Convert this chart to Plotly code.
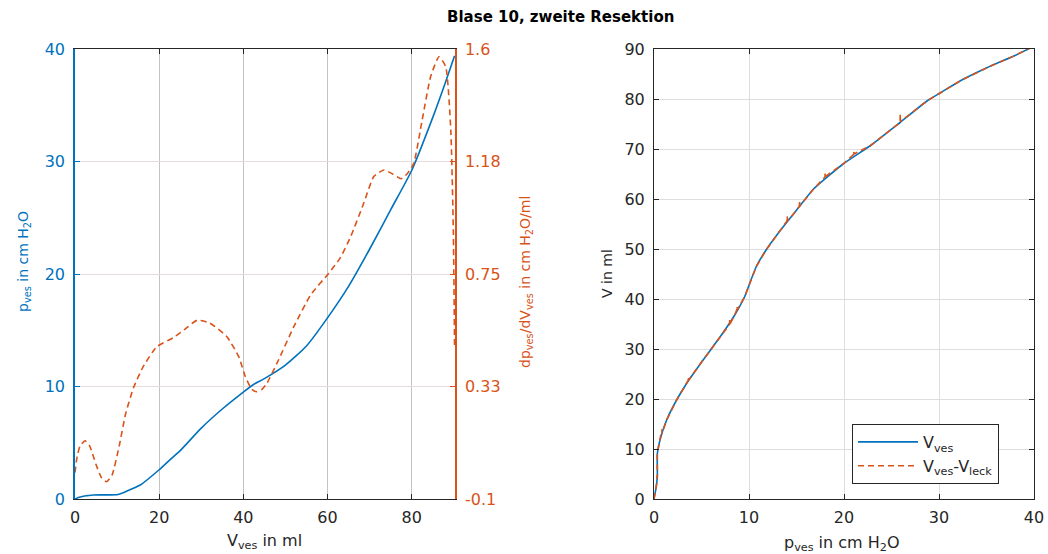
import plotly.graph_objects as go

# ---- left panel: pressure and compliance-derivative over filled volume ----
v_ves = [0, 1, 2, 3, 4.3, 6, 8, 10.2, 12, 15.5, 20, 22.6, 25, 30, 35, 40, 42.5, 45,
         50, 55, 60, 65, 70, 75, 80, 85, 88, 90.2]
p_ves = [0, 0.15, 0.25, 0.3, 0.36, 0.37, 0.37, 0.4, 0.65, 1.24, 2.6, 3.5, 4.3, 6.3,
         8.0, 9.5, 10.2, 10.7, 11.9, 13.6, 16.1, 18.9, 22.2, 25.7, 29.2, 33.9, 37.0, 39.4]

v_dpdv = [0, 0.5, 1.2, 2.4, 3.5, 5, 6.3, 7.5, 8.8, 10.5, 12, 13.9, 16.2, 19.4, 23.4,
          26, 29, 32, 36.1, 38.9, 40.5, 42, 43.2, 44.5, 45.6, 48, 52, 56, 60.3, 63,
          65.5, 68.6, 71, 73.4, 75.5, 77.5, 79, 80.5, 82.5, 84.5, 86.5, 88.1, 89.3,
          89.9, 90.2]
dpdv = [0.0, 0.06, 0.10, 0.12, 0.10, 0.03, -0.02, -0.035, -0.01, 0.10, 0.22, 0.32,
        0.40, 0.475, 0.51, 0.54, 0.575, 0.565, 0.513, 0.438, 0.362, 0.315, 0.305,
        0.315, 0.337, 0.413, 0.551, 0.671, 0.753, 0.81, 0.891, 1.017, 1.118, 1.143,
        1.128, 1.11, 1.13, 1.168, 1.332, 1.495, 1.571, 1.533, 1.294, 0.916, 0.47]

# ---- right panel: volume over pressure, raw and leak-corrected ----
p_curve = [0, 0.2, 0.35, 0.35, 0.63, 1.33, 2.38, 3.43, 5.17, 7.1, 8.5, 9.55, 10.07,
           10.77, 11.8, 13.05, 14.6, 15.3, 16.8, 19.9, 22.8, 25.9, 28.8, 30.2, 32.3,
           35.1, 38.0, 39.7]
v_curve = [0, 2.0, 4.5, 9.1, 11.8, 15.8, 19.8, 23.1, 27.8, 32.8, 36.8, 40.5, 43.1,
           46.5, 49.8, 53.1, 56.8, 58.5, 62.0, 67.0, 70.7, 75.3, 79.7, 81.3, 83.7,
           86.3, 88.7, 90.3]

p_leck = [0, 0.2, 0.3, 0.32, 0.35, 0.35, 0.63, 0.8, 0.82, 0.85, 1.33, 2.38, 3.43,
          3.6, 3.62, 3.65, 5.17, 7.1, 7.95, 7.97, 8.0, 8.5, 8.72, 8.74, 8.77, 9.55,
          10.07, 10.77, 11.8, 13.05, 14.0, 14.02, 14.05, 14.6, 15.3, 15.32, 15.35,
          16.8, 18.0, 18.02, 18.05, 19.9, 21.0, 21.02, 21.05, 22.8, 25.9, 25.92, 25.95,
          28.8, 30.2, 32.3, 35.1, 38.0, 39.7]
v_leck = [0, 2.0, 3.2, 4.6, 4.5, 9.1, 11.8, 13.0, 13.9, 13.1, 15.8, 19.8, 23.1,
          23.7, 24.5, 23.8, 27.8, 32.8, 34.9, 35.8, 35.0, 36.8, 37.9, 38.6, 37.9, 40.5,
          43.1, 46.5, 49.8, 53.1, 55.6, 56.6, 55.7, 56.8, 58.5, 59.7, 58.6, 62.0, 64.4,
          65.2, 64.5, 67.0, 68.9, 69.6, 69.0, 70.7, 75.3, 77.0, 75.5, 79.7, 81.3, 83.7,
          86.3, 88.7, 90.3]

dpdv_ticks = [-0.1, 0.325, 0.75, 1.175, 1.6]
dpdv_labels = ["-0.1", "0.33", "0.75", "1.18", "1.6"]

BLUE = "#0072BD"
ORANGE = "#D95319"
DARK = "#262626"
FONT = "DejaVu Sans"
FS = 16
FS_V = 14

W, H = 1048, 554


def px_x(x):
    return x / W


def px_y(y):
    return 1 - y / H


fig = go.Figure()

fig.add_trace(go.Scatter(x=v_ves, y=p_ves, mode="lines", xaxis="x", yaxis="y",
                         line=dict(color=BLUE, width=1.6, shape="spline", smoothing=0.6),
                         showlegend=False))
fig.add_trace(go.Scatter(x=v_dpdv, y=dpdv, mode="lines", xaxis="x", yaxis="y2",
                         line=dict(color=ORANGE, width=1.6, dash="6px,4px",
                                   shape="spline", smoothing=0.5),
                         showlegend=False))

fig.add_trace(go.Scatter(x=p_curve, y=v_curve, mode="lines", xaxis="x2", yaxis="y3",
                         name="V<sub>ves</sub>",
                         line=dict(color=BLUE, width=1.6, shape="spline", smoothing=0.5)))
fig.add_trace(go.Scatter(x=p_leck, y=v_leck, mode="lines", xaxis="x2", yaxis="y3",
                         name="V<sub>ves</sub>-V<sub>leck</sub>",
                         line=dict(color=ORANGE, width=1.6, dash="6px,4px")))

dom_y = [px_y(499), px_y(49)]
tickfont_dark = dict(family=FONT, size=FS, color=DARK)

fig.update_layout(
    width=W, height=H,
    margin=dict(l=0, r=0, t=0, b=0),
    paper_bgcolor="white", plot_bgcolor="white",
    font=dict(family=FONT, size=FS, color=DARK),
    xaxis=dict(domain=[px_x(75), px_x(455)], range=[0, 90.3], anchor="y",
               tickvals=[0, 20, 40, 60, 80], ticks="inside", ticklen=5,
               tickcolor=DARK, showline=True, linecolor=DARK, linewidth=1,
               mirror="ticks", showgrid=True, gridcolor="#c4c4c4", gridwidth=1.2,
               zeroline=False, tickfont=tickfont_dark, ticklabelstandoff=4,
               automargin=False),
    yaxis=dict(domain=dom_y, range=[0, 40], anchor="x",
               tickvals=[0, 10, 20, 30, 40], ticks="inside", ticklen=5,
               tickcolor=BLUE, showline=True, linecolor=BLUE, linewidth=1.5,
               showgrid=True, gridcolor="#e6dcdc", gridwidth=1.2, zeroline=False,
               tickfont=dict(family=FONT, size=FS, color=BLUE),
               ticklabelstandoff=5, automargin=False),
    yaxis2=dict(overlaying="y", side="right", anchor="x",
                range=[-0.1, 1.6], tickvals=dpdv_ticks, ticktext=dpdv_labels,
                ticks="inside", ticklen=5, tickcolor=ORANGE, showline=True,
                linecolor=ORANGE, linewidth=1.5, showgrid=False, zeroline=False,
                tickfont=dict(family=FONT, size=FS, color=ORANGE),
                ticklabelstandoff=5, automargin=False),
    xaxis2=dict(domain=[px_x(654), px_x(1034)], range=[0, 40], anchor="y3",
                tickvals=[0, 10, 20, 30, 40], ticks="inside", ticklen=5,
                tickcolor=DARK, showline=True, linecolor=DARK, linewidth=1,
                mirror="ticks", showgrid=True, gridcolor="#dedede", gridwidth=1.2,
                zeroline=False, tickfont=tickfont_dark, ticklabelstandoff=4,
                automargin=False),
    yaxis3=dict(domain=dom_y, range=[0, 90], anchor="x2",
                tickvals=list(range(0, 91, 10)), ticks="inside", ticklen=5,
                tickcolor=DARK, showline=True, linecolor=DARK, linewidth=1,
                mirror="ticks", showgrid=True, gridcolor="#dedede", gridwidth=1.2,
                zeroline=False, tickfont=tickfont_dark, ticklabelstandoff=5,
                automargin=False),
    legend=dict(x=px_x(852), y=px_y(424), xanchor="left", yanchor="top",
                bgcolor="white", bordercolor=DARK, borderwidth=1,
                font=dict(family=FONT, size=FS, color=DARK),
                itemwidth=60, tracegroupgap=0),
)

annotations = [
    dict(text="<b>Blase 10, zweite Resektion</b>", x=px_x(560), y=px_y(17),
         font=dict(family=FONT, size=15, color="black")),
    dict(text="p<sub>ves</sub> in cm H<sub>2</sub>O", x=px_x(24), y=px_y(262),
         textangle=-90, font=dict(family=FONT, size=FS_V, color=BLUE)),
    dict(text="dp<sub>ves</sub>/dV<sub>ves</sub> in cm H<sub>2</sub>O/ml",
         x=px_x(526), y=px_y(282), textangle=-90,
         font=dict(family=FONT, size=FS_V, color=ORANGE)),
    dict(text="V<sub>ves</sub> in ml", x=px_x(264), y=px_y(541),
         font=dict(family=FONT, size=FS, color=DARK)),
    dict(text="V in ml", x=px_x(607), y=px_y(274), textangle=-90,
         font=dict(family=FONT, size=FS_V, color=DARK)),
    dict(text="p<sub>ves</sub> in cm H<sub>2</sub>O", x=px_x(841), y=px_y(543),
         font=dict(family=FONT, size=FS, color=DARK)),
]
for a in annotations:
    a.update(xref="paper", yref="paper", showarrow=False,
             xanchor="center", yanchor="middle")
fig.update_layout(annotations=annotations)

fig.write_html("out.html")
